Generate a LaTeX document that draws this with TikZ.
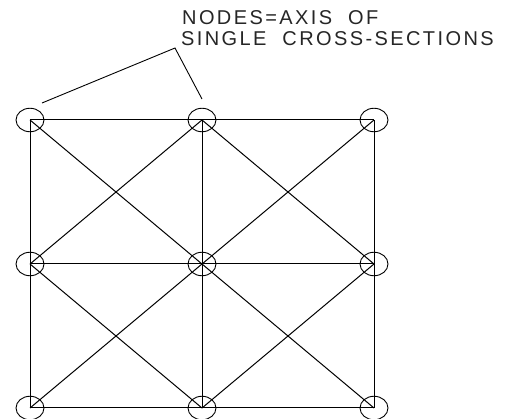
\documentclass[tikz,border=0pt]{standalone}
\usepackage{fontspec}
\usetikzlibrary{shapes.geometric}
\newfontfamily\cadfont[LetterSpace=12,WordSpace=2]{Liberation Sans}
\begin{document}
\begin{tikzpicture}[x=1pt,y=-1pt,
  axisnode/.style={draw=black,ellipse,line width=0.9pt,minimum width=28pt,minimum height=23.5pt,inner sep=0pt},
  member/.style={draw=black,line width=1pt},
  leader/.style={draw=black,line width=0.9pt},
  note/.style={anchor=base west,inner sep=0pt,font=\cadfont\fontsize{20}{20}\selectfont,text=black!85}]
\useasboundingbox (0,0) rectangle (506,419);
\clip (0,0) rectangle (506,419);
\foreach \rw/\y in {a/120,b/264,c/408}
  \foreach \cl/\x in {1/30,2/202,3/374}
    \node[axisnode] (\rw\cl) at (\x,\y) {};
\foreach \p/\q in {a1/a2,a2/a3,b1/b2,b2/b3,c1/c2,c2/c3,a1/b1,b1/c1,a2/b2,b2/c2,a3/b3,b3/c3,
                   a1/b2,b2/c3,a3/b2,b2/c1,a2/b1,b1/c2,a2/b3,b3/c2}
  \draw[member] (\p.center) -- (\q.center);
\node[note] (t1) at (182,25) {NODES=AXIS OF};
\node[note] (t2) at (181,46) {SINGLE CROSS-SECTIONS};
\coordinate (apex) at (175,48);
\coordinate (la) at (42,103);
\coordinate (lb) at (202,99);
\draw[leader] (la) -- (apex) -- (lb);
\end{tikzpicture}
\end{document}
